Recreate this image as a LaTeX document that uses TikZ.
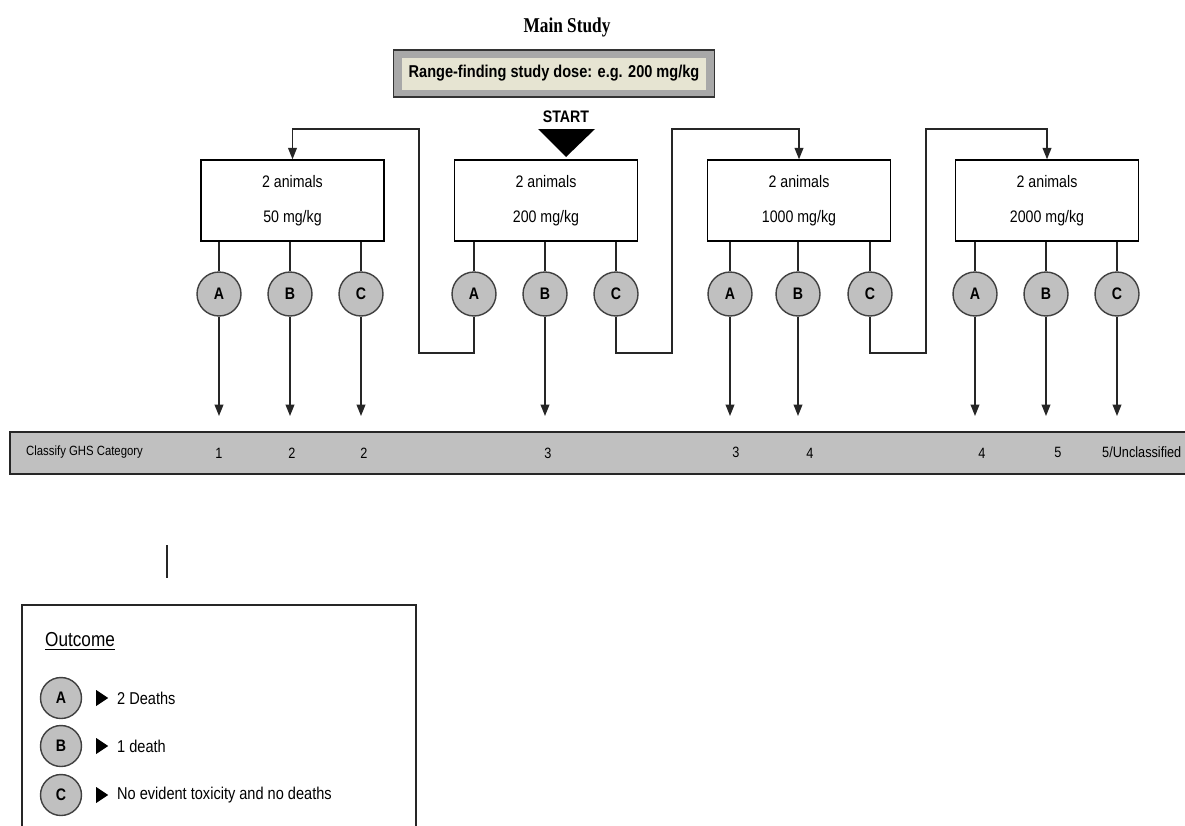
\documentclass[tikz,border=0pt]{standalone}
\usepackage{fontspec}
\setmainfont{Liberation Sans}[FakeStretch=0.85]
\newfontfamily\studyfont{Liberation Serif}[FakeStretch=0.82]
\usetikzlibrary{arrows.meta}
\definecolor{shade}{HTML}{C0C0C0}
\definecolor{dosebg}{HTML}{E6E4D2}
\definecolor{dosering}{HTML}{A8A8A8}
\begin{document}
\begin{tikzpicture}[
  x = 0.02cm,
  y = -0.02cm,
  > = {Triangle[length = 6.5pt, width = 5pt]},
  dosebox/.style = {
    draw = black,
    line width = 0.8pt,
    minimum width = 3.66cm,
    minimum height = 1.62cm,
    inner sep = 0pt,
    align = center,
    font = \fontsize{9.5}{20}\selectfont,
  },
  outcome/.style = {
    shape = circle,
    draw = black!75,
    line width = 0.8pt,
    fill = shade,
    minimum size = 0.88cm,
    inner sep = 0pt,
    font = \fontsize{9.5}{11}\selectfont\bfseries,
  },
  category/.style = {
    font = \fontsize{8.5}{10}\selectfont,
  },
  legendtext/.style = {
    anchor = west,
    font = \fontsize{9.75}{12}\selectfont,
  }
]
  \useasboundingbox (0, 0) rectangle (1185, 825);

  \node[font = \studyfont\fontsize{12}{14}\selectfont\bfseries] (title) at (567, 27) {Main Study};
  \node[draw = black!80, line width = 1pt, fill = dosering,
    minimum width = 6.42cm, minimum height = 0.94cm] (rangebox) at (554, 73.5) {};
  \node[fill = dosebg, minimum width = 6.1cm, minimum height = 0.64cm,
    font = \fontsize{9.75}{12}\selectfont\bfseries] (rangetext) at (rangebox) {Range-finding study dose: e.g. 200 mg/kg};
  \node[font = \fontsize{9.5}{11}\selectfont\bfseries] (start) at (566, 117) {START};
  \fill (538, 129) -- (595, 129) -- (566, 157) -- cycle;

  \node[dosebox] (d50) at (292.5, 200.5) {2 animals\\50 mg/kg};
  \node[dosebox] (d200) at (546, 200.5) {2 animals\\200 mg/kg};
  \node[dosebox] (d1000) at (799, 200.5) {2 animals\\1000 mg/kg};
  \node[dosebox] (d2000) at (1047, 200.5) {2 animals\\2000 mg/kg};

  \node[outcome] (a50) at (219, 294) {A};
  \node[outcome] (b50) at (290, 294) {B};
  \node[outcome] (c50) at (361, 294) {C};
  \node[outcome] (a200) at (474, 294) {A};
  \node[outcome] (b200) at (545, 294) {B};
  \node[outcome] (c200) at (616, 294) {C};
  \node[outcome] (a1000) at (730, 294) {A};
  \node[outcome] (b1000) at (798, 294) {B};
  \node[outcome] (c1000) at (870, 294) {C};
  \node[outcome] (a2000) at (975, 294) {A};
  \node[outcome] (b2000) at (1046, 294) {B};
  \node[outcome] (c2000) at (1117, 294) {C};

  \node[draw = black!85, line width = 1.2pt, fill = shade, minimum width = 23.8cm,
    minimum height = 0.84cm, inner sep = 0pt] (bar) at (605, 453) {};
  \node[category, anchor = west, font = \fontsize{7.6}{10}\selectfont] (classify) at (20, 452) {Classify GHS Category};
  \node[category] (k1) at (219, 453) {1};
  \node[category] (k2) at (292, 453) {2};
  \node[category] (k3) at (364, 453) {2};
  \node[category] (k4) at (548, 453) {3};
  \node[category] (k5) at (736, 452) {3};
  \node[category] (k6) at (810, 453) {4};
  \node[category] (k7) at (982, 453) {4};
  \node[category] (k8) at (1058, 452) {5};
  \node[category, anchor = west] (k9) at (1096, 452) {5/Unclassified};

  \coordinate (tips) at (0, 416);
  \coordinate (turn1) at (419, 353);
  \coordinate (top1) at (419, 129);
  \coordinate (turn2) at (672, 353);
  \coordinate (top2) at (672, 129);
  \coordinate (turn3) at (926, 353);
  \coordinate (top3) at (926, 129);

  \begin{scope}[
    every path/.style = { draw = black!85, line width = 0.8pt }
  ]
    \draw (a50 |- d50.south) -- (a50);
    \draw (b50 |- d50.south) -- (b50);
    \draw (c50 |- d50.south) -- (c50);
    \draw (a200 |- d200.south) -- (a200);
    \draw (b200 |- d200.south) -- (b200);
    \draw (c200 |- d200.south) -- (c200);
    \draw (a1000 |- d1000.south) -- (a1000);
    \draw (b1000 |- d1000.south) -- (b1000);
    \draw (c1000 |- d1000.south) -- (c1000);
    \draw (a2000 |- d2000.south) -- (a2000);
    \draw (b2000 |- d2000.south) -- (b2000);
    \draw (c2000 |- d2000.south) -- (c2000);

    \draw[->] (a50) -- (a50 |- tips);
    \draw[->] (b50) -- (b50 |- tips);
    \draw[->] (c50) -- (c50 |- tips);
    \draw[->] (b200) -- (b200 |- tips);
    \draw[->] (a1000) -- (a1000 |- tips);
    \draw[->] (b1000) -- (b1000 |- tips);
    \draw[->] (a2000) -- (a2000 |- tips);
    \draw[->] (b2000) -- (b2000 |- tips);
    \draw[->] (c2000) -- (c2000 |- tips);

    \draw[->] (a200) |- (turn1) -- (top1) -| (d50);
    \draw[->] (c200) |- (turn2) -- (top2) -| (d1000);
    \draw[->] (c1000) |- (turn3) -- (top3) -| (d2000);
  \end{scope}

  \draw[black!85, line width = 0.8pt] (167, 545) -- (167, 578);

  \draw[black!85, line width = 0.8pt] (22, 830) -- (22, 605) -- (416, 605) -- (416, 830);
  \node[anchor = west, font = \fontsize{11.5}{13}\selectfont] (legendtitle) at (39, 641) {\underline{Outcome}};
  \node[outcome, minimum size = 0.82cm] (la) at (61, 698) {A};
  \node[outcome, minimum size = 0.82cm] (lb) at (61, 746) {B};
  \node[outcome, minimum size = 0.82cm] (lc) at (61, 795) {C};
  \fill (la.east) ++(14, -8) -- ++(0, 16) -- ++(12, -8) -- cycle;
  \fill (lb.east) ++(14, -8) -- ++(0, 16) -- ++(12, -8) -- cycle;
  \fill (lc.east) ++(14, -8) -- ++(0, 16) -- ++(12, -8) -- cycle;
  \node[legendtext] (ta) at (111, 698) {2 Deaths};
  \node[legendtext] (tb) at (111, 746) {1 death};
  \node[legendtext] (tc) at (111, 795) {No evident toxicity and no deaths};
\end{tikzpicture}
\end{document}
